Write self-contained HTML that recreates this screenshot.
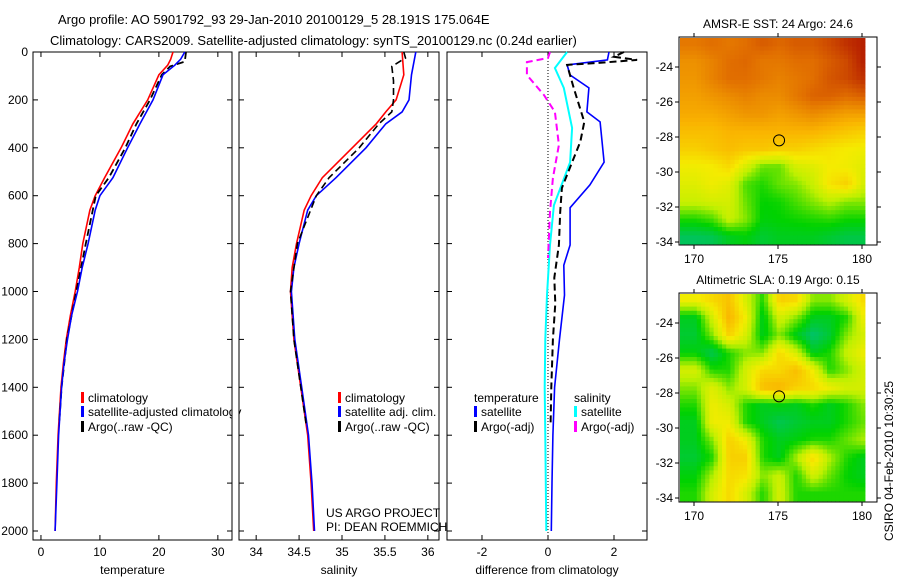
<!DOCTYPE html>
<html><head><meta charset="utf-8">
<style>
body{margin:0;background:#fff;}
svg{display:block;font-family:"Liberation Sans",sans-serif;}
text{font-size:12px;fill:#000;}
</style></head>
<body>
<svg id="fig" width="900" height="580" viewBox="0 0 900 580" xmlns="http://www.w3.org/2000/svg">
<text x="58" y="24" style="font-size:13px">Argo profile: AO 5901792_93 29-Jan-2010 20100129_5 28.191S 175.064E</text>
<text x="50" y="45" style="font-size:13px">Climatology: CARS2009. Satellite-adjusted climatology: synTS_20100129.nc (0.24d earlier)</text>
<text transform="translate(893,461) rotate(-90)" text-anchor="middle">CSIRO 04-Feb-2010 10:30:25</text>
</svg>
<script>
// ---- profile data ----
const tDepth=[0,30,55,95,200,300,400,525,600,660,800,900,1000,1100,1200,1300,1400,1600,1800,2000];
const tClim=[22.4,22.0,21.5,20.0,18.1,15.6,13.6,10.8,9.2,8.3,7.1,6.5,5.8,5.0,4.3,3.8,3.4,2.9,2.6,2.4];
const tSat=[24.4,23.7,22.7,20.7,19.0,16.8,14.7,12.2,10.0,9.2,8.0,7.0,6.2,5.2,4.5,3.9,3.5,3.0,2.7,2.4];
const tArgoDepth=[0,40,60,95,200,300,400,525,600,800,1000,1200,1400,1550];
const tArgo=[24.6,24.4,21.9,20.5,18.5,16.2,14.3,11.5,9.3,7.6,6.0,4.4,3.5,3.1];
const sDepth=[0,95,200,250,300,400,525,600,660,800,900,1000,1200,1400,1600,1800,2000];
const sClim=[35.70,35.72,35.63,35.51,35.40,35.12,34.77,34.64,34.56,34.47,34.42,34.40,34.44,34.52,34.60,34.64,34.67];
const sSat=[35.86,35.81,35.78,35.70,35.51,35.28,34.93,34.70,34.60,34.50,34.44,34.41,34.45,34.53,34.61,34.65,34.68];
const sArgoDepth=[0,25,60,120,200,250,300,400,525,600,800,1000,1200,1400,1550];
const sArgo=[35.72,35.74,35.58,35.60,35.60,35.58,35.43,35.20,34.85,34.70,34.48,34.40,34.44,34.52,34.58];
// differences
const dDepth=[0,33,54,96,150,250,292,460,555,650,806,890,1015,1200,1400,1600,1800,2000];
const dTempSat=[1.85,1.8,0.58,0.67,1.24,1.18,1.58,1.7,1.27,0.67,0.67,0.48,0.5,0.35,0.2,0.15,0.12,0.1];
const dTempArgoDepth=[0,20,33,46,54,150,292,375,460,568,668,806,943,1050,1200,1400,1550];
const dTempArgo=[2.3,2.0,2.7,1.5,0.58,0.78,1.1,0.98,0.73,0.42,0.37,0.33,0.19,0.22,0.15,0.1,0.08];
const dSalSatDepth=[0,67,150,317,460,640,806,1015,1200,1400,1600,2000];
const dSalSat=[0.58,0.21,0.48,0.73,0.67,0.18,0.06,-0.03,-0.08,-0.1,-0.08,-0.05];
const dSalArgoDepth=[0,25,42,96,180,250,388,526,668,860];
const dSalArgo=[0.06,0.0,-0.64,-0.64,-0.12,0.21,0.33,0.15,0.06,0.0];
// ---- map data (colour index 0..1), rows north->south, cols west->east ----
const mapLon0=169.6, mapLat0=-22.2;
const sstGrid=[
[0.8,0.82,0.8,0.82,0.85,0.83,0.85,0.85,0.88,0.92,0.95],
[0.75,0.78,0.82,0.83,0.8,0.8,0.82,0.82,0.85,0.88,0.95],
[0.74,0.78,0.82,0.82,0.8,0.78,0.8,0.82,0.86,0.88,0.92],
[0.72,0.74,0.76,0.78,0.76,0.76,0.8,0.84,0.84,0.82,0.84],
[0.7,0.7,0.72,0.74,0.74,0.72,0.74,0.76,0.74,0.72,0.72],
[0.66,0.66,0.68,0.68,0.68,0.68,0.68,0.68,0.66,0.64,0.62],
[0.62,0.64,0.66,0.64,0.64,0.62,0.62,0.6,0.58,0.56,0.55],
[0.55,0.56,0.6,0.5,0.4,0.4,0.5,0.52,0.56,0.55,0.52],
[0.52,0.55,0.52,0.38,0.35,0.4,0.42,0.48,0.58,0.62,0.5],
[0.48,0.5,0.5,0.4,0.33,0.34,0.38,0.42,0.46,0.42,0.42],
[0.35,0.38,0.48,0.42,0.32,0.33,0.34,0.35,0.36,0.34,0.34],
[0.24,0.25,0.3,0.32,0.28,0.3,0.3,0.3,0.28,0.26,0.26]];
const slaGrid=[
[0.55,0.6,0.65,0.5,0.35,0.62,0.6,0.42,0.42,0.5,0.6],
[0.3,0.5,0.68,0.55,0.3,0.5,0.42,0.3,0.3,0.35,0.55],
[0.28,0.42,0.62,0.5,0.3,0.42,0.3,0.22,0.28,0.42,0.5],
[0.32,0.25,0.35,0.42,0.42,0.6,0.5,0.3,0.35,0.48,0.55],
[0.5,0.35,0.35,0.5,0.6,0.6,0.66,0.55,0.35,0.42,0.5],
[0.42,0.52,0.42,0.5,0.66,0.68,0.62,0.6,0.55,0.5,0.5],
[0.35,0.55,0.5,0.35,0.3,0.32,0.3,0.35,0.3,0.35,0.42],
[0.3,0.55,0.55,0.35,0.3,0.25,0.28,0.3,0.3,0.35,0.4],
[0.3,0.42,0.62,0.55,0.35,0.3,0.32,0.35,0.35,0.4,0.45],
[0.28,0.35,0.62,0.62,0.35,0.3,0.45,0.6,0.45,0.35,0.3],
[0.32,0.45,0.6,0.58,0.42,0.48,0.35,0.5,0.4,0.33,0.3],
[0.35,0.5,0.6,0.5,0.35,0.5,0.35,0.35,0.35,0.35,0.35]];
const argoLon=175.064, argoLat=-28.191;
const depthTicks=[0,200,400,600,800,1000,1200,1400,1600,1800,2000];
const tempTicks=[0,10,20,30];
const salTicks=[34,34.5,35,35.5,36];
const diffTicks=[-2,0,2];
const latTicks=[-24,-26,-28,-30,-32,-34];
const lonTicks=[170,175,180];

const NS="http://www.w3.org/2000/svg";
const svg=document.getElementById('fig');
function mk(tag,attrs,parent){const e=document.createElementNS(NS,tag);for(const k in attrs)e.setAttribute(k,attrs[k]);(parent||svg).appendChild(e);return e;}
function txt(x,y,s,anchor){const e=mk('text',{x:x,y:y,'text-anchor':anchor||'start'});e.textContent=s;return e;}

const yTop=52, yBot=540;
function yD(d){return 52+d*0.2395;}
const panels=[
 {x0:33,x1:232,vmin:-1.35,vmax:32.4,ticks:tempTicks,title:'temperature',name:'temperature'},
 {x0:239,x1:439,vmin:33.8,vmax:36.13,ticks:salTicks,title:'salinity',name:'salinity'},
 {x0:447,x1:647,vmin:-3.06,vmax:3.0,ticks:diffTicks,title:'difference from climatology',name:'difference'}];
panels.forEach(p=>{p.sx=v=>p.x0+(v-p.vmin)/(p.vmax-p.vmin)*(p.x1-p.x0);});

function line(p,vals,depths,color,dash,w,name){
  const pts=vals.map((v,i)=>p.sx(v).toFixed(1)+','+yD(depths[i]).toFixed(1)).join(' ');
  const e=mk('polyline',{points:pts,fill:'none',stroke:color,'stroke-width':w||1.5,'stroke-dasharray':dash||'none'});
  
  
}

panels.forEach((p,pi)=>{
  const fr=mk('rect',{x:p.x0,y:yTop,width:p.x1-p.x0,height:yBot-yTop,fill:'none',stroke:'#000'});
  
  
  depthTicks.forEach(d=>{
    const y=yD(d);
    mk('line',{x1:p.x0,x2:p.x0+5,y1:y,y2:y,stroke:'#000'});
    mk('line',{x1:p.x1,x2:p.x1-5,y1:y,y2:y,stroke:'#000'});
    if(pi===0){const t=txt(28,y+4,String(d),'end');
      
      }
  });
  p.ticks.forEach(v=>{
    const x=p.sx(v);
    mk('line',{x1:x,x2:x,y1:yBot,y2:yBot-5,stroke:'#000'});
    mk('line',{x1:x,x2:x,y1:yTop,y2:yTop+5,stroke:'#000'});
    const t=txt(x,556,String(v),'middle');
    
    
  });
  const at=txt((p.x0+p.x1)/2,574,p.title,'middle');
  
  
});
const P0=panels[0],P1=panels[1],P2=panels[2];
const zl=mk('line',{x1:P2.sx(0),x2:P2.sx(0),y1:yTop,y2:yBot,stroke:'#000','stroke-dasharray':'1,2'});



line(P0,tClim,tDepth,'#ff0000',null,1.6,'temp-climatology-line');
line(P0,tArgo,tArgoDepth,'#000',"7,4",1.8,'temp-argo-line');
line(P0,tSat,tDepth,'#0000ff',null,1.6,'temp-satellite-line');
line(P1,sClim,sDepth,'#ff0000',null,1.6,'sal-climatology-line');
line(P1,sSat,sDepth,'#0000ff',null,1.6,'sal-satellite-line');
line(P1,sArgo,sArgoDepth,'#000',"7,4",1.6,'sal-argo-line');
line(P2,dSalSat,dSalSatDepth,'#00ffff',null,2,'diff-sal-satellite-line');
line(P2,dSalArgo,dSalArgoDepth,'#ff00ff',"7,4",2,'diff-sal-argo-line');
line(P2,dTempSat,dDepth,'#0000ff',null,1.6,'diff-temp-satellite-line');
line(P2,dTempArgo,dTempArgoDepth,'#000',"7,4",2,'diff-temp-argo-line');

function legend(x,y,color,label,name){
  if(color){const r=mk('rect',{x:x,y:y-10,width:3,height:11,fill:color});
    
    }
  const t=txt(x+7,y,label);
  
  
}
legend(81,402,'#ff0000','climatology','legend-temp-climatology');
legend(81,416,'#0000ff','satellite-adjusted climatology','legend-temp-satellite');
legend(81,431,'#000','Argo(..raw -QC)','legend-temp-argo');
legend(338,402,'#ff0000','climatology','legend-sal-climatology');
legend(338,416,'#0000ff','satellite adj. clim.','legend-sal-satellite');
legend(338,431,'#000','Argo(..raw -QC)','legend-sal-argo');
legend(467,402,null,'temperature','legend-temp-header');
legend(474,416,'#0000ff','satellite','legend-diff-temp-satellite');
legend(474,431,'#000','Argo(-adj)','legend-diff-temp-argo');
legend(567,402,null,'salinity','legend-sal-header');
legend(574,416,'#00ffff','satellite','legend-diff-sal-satellite');
legend(574,431,'#ff00ff','Argo(-adj)','legend-diff-sal-argo');
const c1=txt(326,517,'US ARGO PROJECT');
const c2=txt(326,531,'PI: DEAN ROEMMICH');
mk('rect',{x:232.5,y:405,width:6,height:14,fill:'#fff'});
mk('line',{x1:239,x2:239,y1:400,y2:420,stroke:'#000'});

// ---- maps ----
const stops=[[0,[0,200,230]],[0.2,[0,190,130]],[0.33,[0,210,0]],[0.46,[190,240,0]],[0.56,[245,235,0]],[0.68,[250,180,0]],[0.82,[225,110,0]],[1,[165,0,0]]];
function cmap(v){v=Math.max(0,Math.min(1,v));for(let i=1;i<stops.length;i++){if(v<=stops[i][0]){const a=stops[i-1],b=stops[i],f=(v-a[0])/(b[0]-a[0]);const c=a[1].map((q,k)=>Math.round(q+(b[1][k]-q)*f));return 'rgb('+c.join(',')+')';}}return 'rgb(165,0,0)';}
function sample(grid,lon,lat){
  const rows=grid.length, cols=grid[0].length;
  let c=(lon-mapLon0)-0.5, r=(mapLat0-lat)-0.5;
  c=Math.max(0,Math.min(cols-1,c)); r=Math.max(0,Math.min(rows-1,r));
  const c0=Math.floor(c),r0=Math.floor(r),c1=Math.min(cols-1,c0+1),r1=Math.min(rows-1,r0+1);
  const fc=c-c0,fr=r-r0;
  return grid[r0][c0]*(1-fc)*(1-fr)+grid[r0][c1]*fc*(1-fr)+grid[r1][c0]*(1-fc)*fr+grid[r1][c1]*fc*fr;
}
function drawMap(grid,fx0,fy0,fx1,fy1,lat24y,lat34y,name,title){
  const ppdY=(lat34y-lat24y)/10;
  const lon170x=694, ppdX=(862-694)/10;
  const sx=lon=>lon170x+(lon-170)*ppdX, sy=lat=>lat24y+(-24-lat)*ppdY;
  const g=mk('g',{});
  
  
  const step=4.2;
  for(let y=fy0+1;y<fy1-1;y+=step)for(let x=fx0+1;x<865;x+=step){
    const lon=170+(x+step/2-lon170x)/ppdX, lat=-24-(y+step/2-lat24y)/ppdY;
    const cell=mk('rect',{x:x.toFixed(1),y:y.toFixed(1),width:Math.min(step,865-x)+0.4,height:Math.min(step,fy1-1-y)+0.4,fill:cmap(sample(grid,lon,lat))},g);
    
    
  }
  const fr=mk('rect',{x:fx0,y:fy0,width:fx1-fx0,height:fy1-fy0,fill:'none',stroke:'#000'});
  
  
  latTicks.forEach(l=>{const y=sy(l);
    mk('line',{x1:fx0-4,x2:fx0,y1:y,y2:y,stroke:'#000'});mk('line',{x1:fx1,x2:fx1+4,y1:y,y2:y,stroke:'#000'});
    const t=txt(fx0-6,y+4,String(l),'end');
    
    });
  lonTicks.forEach(l=>{const x=sx(l);
    mk('line',{x1:x,x2:x,y1:fy1,y2:fy1+4,stroke:'#000'});mk('line',{x1:x,x2:x,y1:fy0-4,y2:fy0,stroke:'#000'});
    const t=txt(x,fy1+18,String(l),'middle');
    
    });
  const tt=txt((fx0+fx1)/2,fy0-9,title,'middle');
  
  
  const ci=mk('circle',{cx:sx(argoLon),cy:sy(argoLat),r:5.5,fill:'none',stroke:'#000'});
  
  
}
drawMap(sstGrid,679,37,877,245,67,242,'sst-map','AMSR-E SST: 24 Argo: 24.6');
drawMap(slaGrid,679,293,877,502,323,498,'sla-map','Altimetric SLA: 0.19 Argo: 0.15');
</script>
</body></html>
